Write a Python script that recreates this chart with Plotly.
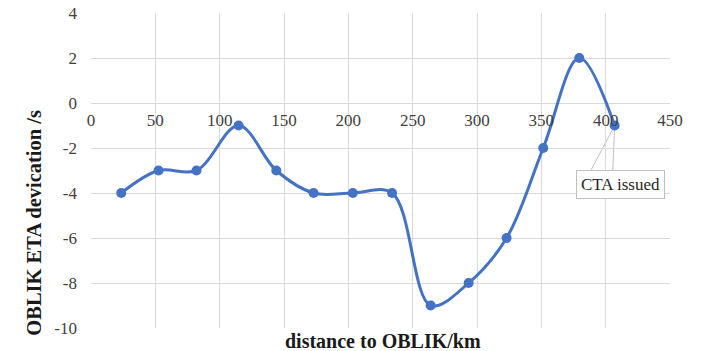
import plotly.graph_objects as go

# distance to OBLIK (km) and ETA deviation (s)
distance_km = [23.5, 52.5, 82, 114.7, 144, 173, 203.5, 234, 264, 293.5, 323, 351.5, 379.5, 407]
eta_dev_s = [-4, -3, -3, -1, -3, -4, -4, -4, -9, -8, -6, -2, 2, -1]

x_ticks = [0, 50, 100, 150, 200, 250, 300, 350, 400, 450]
y_ticks = [4, 2, 0, -2, -4, -6, -8, -10]
y_tick_text = ["4", "2", "0", "-2", "-4", "-6", "-8", "-10"]

BLUE = "#4472C4"
GRID = "#d9d9d9"
SERIF = "Liberation Serif"

fig = go.Figure()
fig.add_trace(go.Scatter(
    x=distance_km, y=eta_dev_s, mode="lines+markers",
    line=dict(color=BLUE, width=3, shape="spline", smoothing=1.0),
    marker=dict(color=BLUE, size=10),
    showlegend=False, hoverinfo="x+y",
))

# callout leader lines from the last point to the label box
last_x, last_y = distance_km[-1], eta_dev_s[-1]
for tx in (388.0, 405.5):
    fig.add_shape(type="line", xref="x", yref="y",
                  x0=last_x, y0=last_y, x1=tx, y1=-3.05,
                  line=dict(color="#bfbfbf", width=1), layer="below")

fig.add_annotation(x=411.7, y=-3.6, xref="x", yref="y", text="CTA issued",
                   showarrow=False, font=dict(family=SERIF, size=17, color="#262626"),
                   bgcolor="white", bordercolor="#bfbfbf", borderwidth=1, borderpad=4)

fig.add_annotation(x=0.505, y=-0.041, xref="paper", yref="paper", yanchor="middle",
                   text="<b>distance to OBLIK/km</b>", showarrow=False,
                   font=dict(family=SERIF, size=20, color="#1a1a1a"))
fig.add_annotation(x=-0.098, y=0.335, xref="paper", yref="paper", xanchor="center",
                   yanchor="middle",
                   text="<b>OBLIK ETA devication /s</b>", showarrow=False, textangle=-90,
                   font=dict(family=SERIF, size=20.5, color="#1a1a1a"))

fig.update_layout(
    width=702, height=351,
    margin=dict(l=91, r=32, t=13, b=23),
    paper_bgcolor="white", plot_bgcolor="white",
    font=dict(family=SERIF),
    xaxis=dict(range=[0, 450], tickvals=x_ticks, showgrid=True, gridcolor=GRID, gridwidth=1,
               zeroline=False, showline=False, anchor="free", position=10 / 14,
               ticks="", ticklabelstandoff=5, automargin=False,
               tickfont=dict(family=SERIF, size=17, color="#404040")),
    yaxis=dict(range=[-10, 4], tickvals=y_ticks, ticktext=y_tick_text,
               showgrid=True, gridcolor=GRID, gridwidth=1,
               zeroline=True, zerolinecolor=GRID, zerolinewidth=1, showline=False,
               ticks="", ticklabelstandoff=13, automargin=False,
               tickfont=dict(family=SERIF, size=17, color="#404040")),
)

fig.write_html("out.html")
